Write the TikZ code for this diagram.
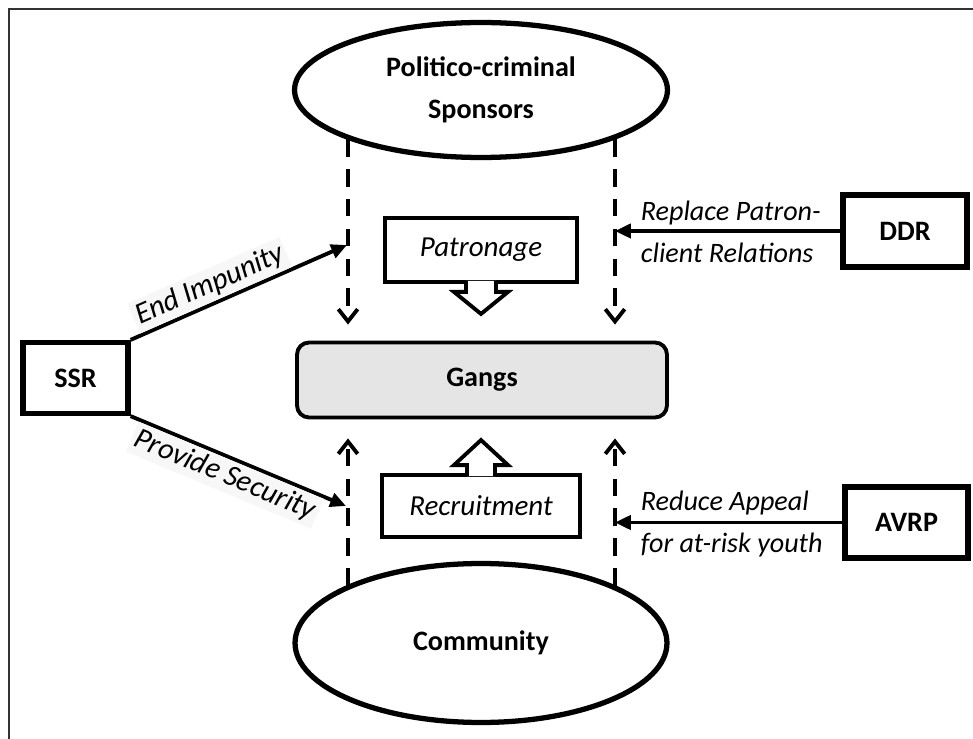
\documentclass[tikz,border=0pt]{standalone}
\usepackage{fontspec}
\setmainfont{Carlito}
\usetikzlibrary{arrows.meta, shapes.geometric}
\tikzset{
  actor box/.style={
    draw, line width=3pt, inner sep=0pt, % thick outline
    minimum height=1.42cm,
    font=\fontsize{16}{24}\selectfont\bfseries
  },
  group oval/.style={
    ellipse, draw, line width=3pt, inner sep=0pt, align=center,
    font=\fontsize{16}{24}\selectfont\bfseries
  },
  flow box/.style={
    draw, line width=2.2pt, inner sep=0pt,
    font=\fontsize{16.5}{24}\selectfont\itshape
  },
  block arrow/.style={draw, fill=white, line width=2.2pt, line join=miter},
  link label/.style={font=\fontsize{16}{24}\selectfont\itshape, align=left, inner sep=2pt},
  slope label/.style={link label, sloped, fill=black!3, font=\fontsize{17}{24}\selectfont\itshape},
  dash arrow/.style={
    line width=2.2pt, dash pattern=on 10pt off 7pt,
    -{Straight Barb[length=7pt,width=11pt]}
  },
  push arrow/.style={line width=2.2pt, -{Triangle[length=9pt,width=8pt]}}
}

\begin{document}
\begin{tikzpicture}[x=0.02cm, y=-0.02cm]
    % page and outer frame
    \useasboundingbox (0,0) rectangle (973,739);
    \clip (0,0) rectangle (973,739);
    \draw[line width=1.2pt, black!80] (9,9) rectangle (1000,800);

    % the two groups and the gangs between them
    \node[group oval, minimum width=7.46cm, minimum height=2.7cm] (spons) at (481,90) {Politico-criminal\\Sponsors};
    \node[group oval, minimum width=7.44cm, minimum height=3.18cm] (comm) at (481,643) {Community};
    \node[draw, fill=black!10, rounded corners=0.24cm, line width=2.2pt,
          minimum width=7.4cm, minimum height=1.5cm,
          font=\fontsize{16}{24}\selectfont\bfseries] (gangs) at (482,380) {Gangs};

    % the programmes
    \node[actor box, minimum width=2.1cm] (ssr) at (75.5,378) {SSR};
    \node[actor box, minimum width=2.48cm, minimum height=1.44cm] (ddr) at (905,231) {DDR};
    \node[actor box, minimum width=2.46cm] (avrp) at (906.5,522.5) {AVRP};

    % patronage and recruitment
    \node[flow box, minimum width=3.84cm, minimum height=1.28cm] (patr) at (481,250) {Patronage};
    \node[flow box, minimum width=3.96cm, minimum height=1.24cm] (rec) at (481,506) {Recruitment};
    \draw[block arrow] (patr.south) ++(-15,-3) -- ++(0,11) -- ++(-12,0) -- ++(27,22) -- ++(27,-22) -- ++(-12,0) -- ++(0,-11);
    \draw[block arrow] (rec.north) ++(-14,3) -- ++(0,-11) -- ++(-13,0) -- ++(27,-25) -- ++(27,25) -- ++(-13,0) -- ++(0,11);

    % the two dashed lanes
    \coordinate (inl) at (348,0);
    \coordinate (inr) at (615,0);
    \draw[dash arrow, shorten >=0.32cm] (inl |- spons.-160) -- (inl |- gangs.north);
    \draw[dash arrow, shorten >=0.32cm] (inr |- spons.-20) -- (inr |- gangs.north);
    \draw[dash arrow, shorten >=0.38cm] (inl |- comm.157) -- (inl |- gangs.south);
    \draw[dash arrow, shorten >=0.38cm] (inr |- comm.23) -- (inr |- gangs.south);

    % interventions
    \coordinate (impu) at (347,245);
    \coordinate (secu) at (346,506);
    \draw[push arrow] (ssr.north east) -- node[slope label, above, pos=0.4] {End Impunity} (impu);
    \draw[push arrow] (ssr.south east) -- node[slope label, below, pos=0.47] {Provide Security} (secu);
    \draw[push arrow] (ddr.west) -- (inr |- ddr.west);
    \draw[push arrow] (avrp.west) -- (inr |- avrp.west);
    \node[link label, anchor=west] (ddrtext) at (637,232) {Replace Patron-\\client Relations};
    \node[link label, anchor=west] (avrptext) at (637,524) {Reduce Appeal\\for at-risk youth};
\end{tikzpicture}
\end{document}
